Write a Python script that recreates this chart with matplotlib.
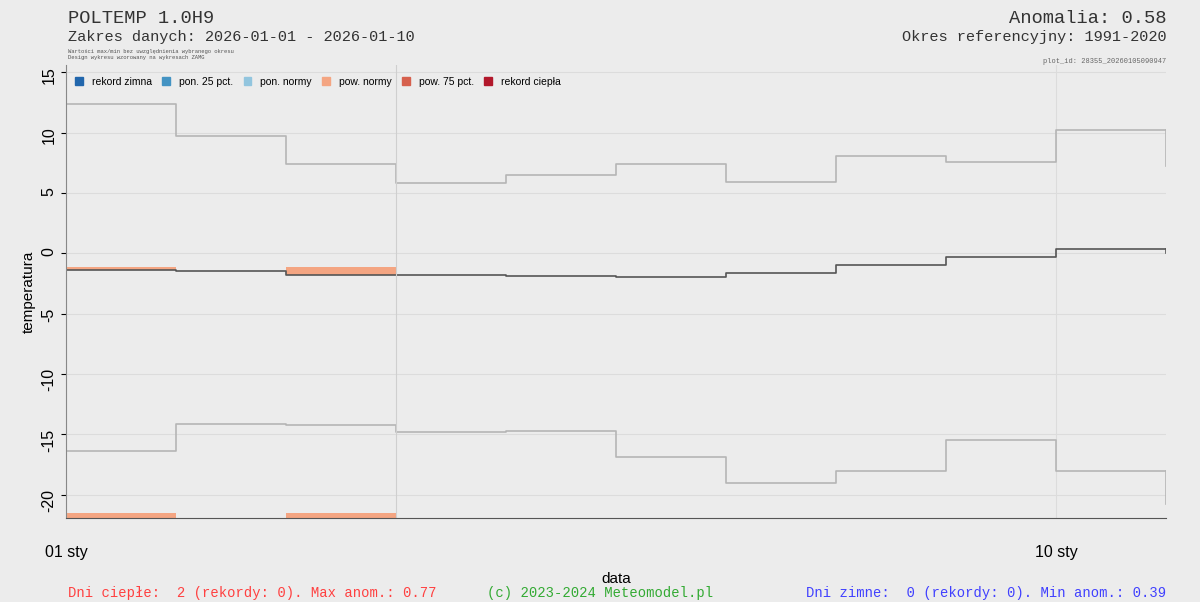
import matplotlib
matplotlib.use("Agg")
import matplotlib.pyplot as plt
from matplotlib.patches import Patch

plt.rcParams["font.family"] = ["Liberation Sans", "DejaVu Sans"]
plt.rcParams["axes.unicode_minus"] = False

days = [1, 2, 3, 4, 5, 6, 7, 8, 9, 10]
tmax = [12.4, 9.7, 7.4, 5.8, 6.5, 7.4, 5.9, 8.1, 7.6, 10.2]
tnorm = [-1.4, -1.5, -1.8, -1.8, -1.9, -2.0, -1.6, -1.0, -0.3, 0.4]
tmin = [-16.4, -14.1, -14.2, -14.8, -14.7, -16.9, -19.0, -18.0, -15.5, -18.0]
warm_days = [1, 3]
warm_vals = [-1.1, -1.1]
tmax_end, tnorm_end, tmin_end = 7.2, 0.0, -20.8

bg = "#ececec"
fig = plt.figure(figsize=(12, 6.02), dpi=100, facecolor=bg)
ax = fig.add_axes([0.055, 0.14, 0.917, 0.752], facecolor=bg)

def steps(vals, end, col):
    xs = days + [11]
    ys = vals + [vals[-1]]
    ax.step(xs, ys, where="post", color=col, lw=1.2)
    ax.plot([11, 11], [vals[-1], end], color=col, lw=1.2)

for d, v in zip(warm_days, warm_vals):
    n = tnorm[days.index(d)]
    ax.bar(d, v - n, bottom=n, width=1, align="edge", color="#f4a582", lw=0)
    ax.bar(d, 0.5, bottom=-22.0, width=1, align="edge", color="#f4a582", lw=0)

steps(tmax, tmax_end, "#b5b5b5")
steps(tmin, tmin_end, "#b5b5b5")
steps(tnorm, tnorm_end, "#555555")

ax.set_xlim(1, 11)
ax.set_ylim(-21.9, 15.6)
ax.set_yticks([15, 10, 5, 0, -5, -10, -15, -20])
ax.set_xticks([1, 10])
ax.set_xticklabels(["01 sty", "10 sty"], fontsize=11.5)
ax.tick_params(axis="y", labelrotation=90, labelsize=11.5)
ax.tick_params(axis="x", length=0, pad=20)
ax.grid(True, color="#dcdcdc", lw=0.8)
ax.axvline(4, color="#cfcfcf", lw=0.8)
for s in ["top", "right"]:
    ax.spines[s].set_visible(False)
ax.spines["left"].set_color("#888888")
ax.spines["bottom"].set_color("#555555")
ax.set_ylabel("temperatura", fontsize=11)
ax.set_xlabel("data", fontsize=11, labelpad=8)

labels = ["rekord zimna", "pon. 25 pct.", "pon. normy", "pow. normy", "pow. 75 pct.", "rekord ciepła"]
cols = ["#2166ac", "#4393c3", "#92c5de", "#f4a582", "#d6604d", "#b2182b"]
ax.legend(handles=[Patch(color=c, label=l) for c, l in zip(cols, labels)], ncol=6,
          loc="upper left", frameon=False, fontsize=7.5, handlelength=0.7, handleheight=0.7,
          columnspacing=1.0, handletextpad=0.9, bbox_to_anchor=(0.0, 0.995))

mono = "Liberation Mono"
fig.text(0.057, 0.962, "POLTEMP 1.0H9", family=mono, fontsize=13.5, color="#333333")
fig.text(0.057, 0.932, "Zakres danych: 2026-01-01 - 2026-01-10", family=mono, fontsize=11, color="#333333")
fig.text(0.057, 0.912, "Wartości max/min bez uwzględnienia wybranego okresu", family=mono, fontsize=4, color="#555555")
fig.text(0.057, 0.902, "Design wykresu wzorowany na wykresach ZAMG", family=mono, fontsize=4, color="#555555")
fig.text(0.972, 0.962, "Anomalia: 0.58", family=mono, fontsize=13.5, color="#333333", ha="right")
fig.text(0.972, 0.932, "Okres referencyjny: 1991-2020", family=mono, fontsize=11, color="#333333", ha="right")
fig.text(0.972, 0.896, "plot_id: 28355_20260105090947", family=mono, fontsize=5, color="#666666", ha="right")
fig.text(0.057, 0.008, "Dni ciepłe:  2 (rekordy: 0). Max anom.: 0.77", family=mono, fontsize=10, color="#ff4040")
fig.text(0.5, 0.008, "(c) 2023-2024 Meteomodel.pl", family=mono, fontsize=10, color="#33aa33", ha="center")
fig.text(0.972, 0.008, "Dni zimne:  0 (rekordy: 0). Min anom.: 0.39", family=mono, fontsize=10, color="#4040ff", ha="right")

fig.savefig("out.png", facecolor=bg)
